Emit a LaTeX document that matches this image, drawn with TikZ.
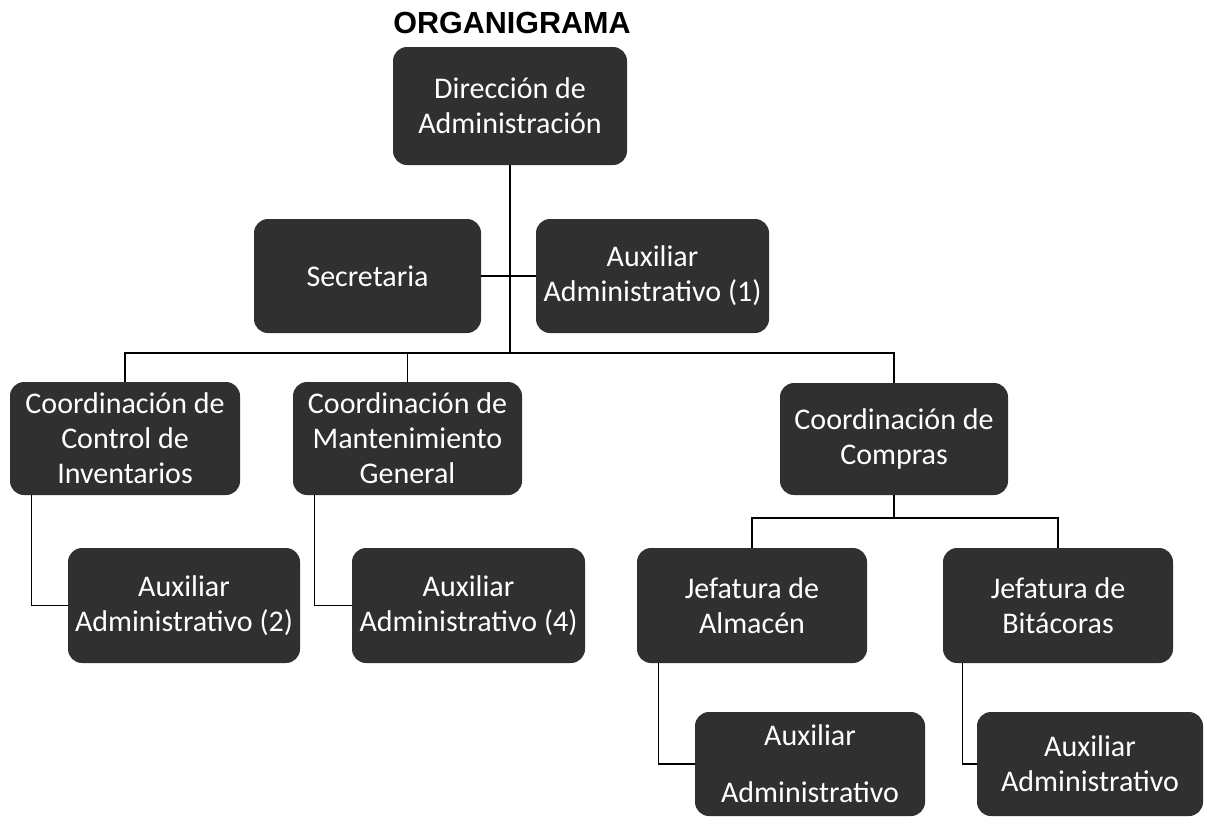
\documentclass[tikz,border=0pt]{standalone}
\usepackage{fontspec}
\setmainfont{Carlito}
\newfontfamily\titlefont{Liberation Sans}
\definecolor{boxgray}{HTML}{303030}
\begin{document}
\begin{tikzpicture}[x=1pt,y=-1pt,
  box/.style={rectangle, rounded corners=14pt, fill=boxgray, text=white,
    font=\fontsize{30}{35}\selectfont, align=center, inner sep=0pt},
  conn/.style={draw=black, line width=1.3pt}]
\useasboundingbox (0,0) rectangle (1207,825);

\node[font=\titlefont\bfseries\fontsize{30.5}{34}\selectfont] (title) at (512,23) {ORGANIGRAMA};

\node[box, minimum width=234pt, minimum height=118pt] (dir) at (510,106) {Dirección de\\Administración};
\node[box, minimum width=227pt, minimum height=114pt] (sec) at (367.5,276) {Secretaria};
\node[box, minimum width=233pt, minimum height=114pt] (aux1) at (652.5,276) {Auxiliar\\Administrativo (1)};

\node[box, minimum width=230pt, minimum height=113pt] (inv) at (125,438.5) {Coordinación de\\Control de\\Inventarios};
\node[box, minimum width=229pt, minimum height=113pt] (man) at (407.5,438.5) {Coordinación de\\Mantenimiento\\General};
\node[box, minimum width=228pt, minimum height=112pt] (com) at (894,439) {Coordinación de\\Compras};

\node[box, minimum width=232pt, minimum height=115pt] (aux2) at (184,605.5) {Auxiliar\\Administrativo (2)};
\node[box, minimum width=233pt, minimum height=115pt] (aux4) at (468.5,605.5) {Auxiliar\\Administrativo (4)};
\node[box, minimum width=230pt, minimum height=115pt] (jal) at (752,605.5) {Jefatura de\\Almacén};
\node[box, minimum width=230pt, minimum height=115pt] (jbi) at (1058,605.5) {Jefatura de\\Bitácoras};

\node[box, minimum width=230pt, minimum height=104pt] (auxa) at (810,764) {Auxiliar\\[22pt]Administrativo};
\node[box, minimum width=226pt, minimum height=104pt] (auxb) at (1090,764) {Auxiliar\\Administrativo};

\coordinate (hbar) at (510,353);
\coordinate (cbar) at (894,518);

\draw[conn] (dir.south) -- (hbar);
\draw[conn] (sec.east) -- (aux1.west);
\draw[conn] (inv.north) -- (inv.north |- hbar) -| (com.north);
\draw[conn] (man.north) -- (man.north |- hbar);
\draw[conn] (com.south) -- (cbar);
\draw[conn] (jal.north) -- (jal.north |- cbar) -| (jbi.north);
\draw[conn] ([xshift=22pt]inv.south west) |- (aux2.west);
\draw[conn] ([xshift=22pt]man.south west) |- (aux4.west);
\draw[conn] ([xshift=22pt]jal.south west) |- (auxa.west);
\draw[conn] ([xshift=20pt]jbi.south west) |- (auxb.west);
\end{tikzpicture}
\end{document}
